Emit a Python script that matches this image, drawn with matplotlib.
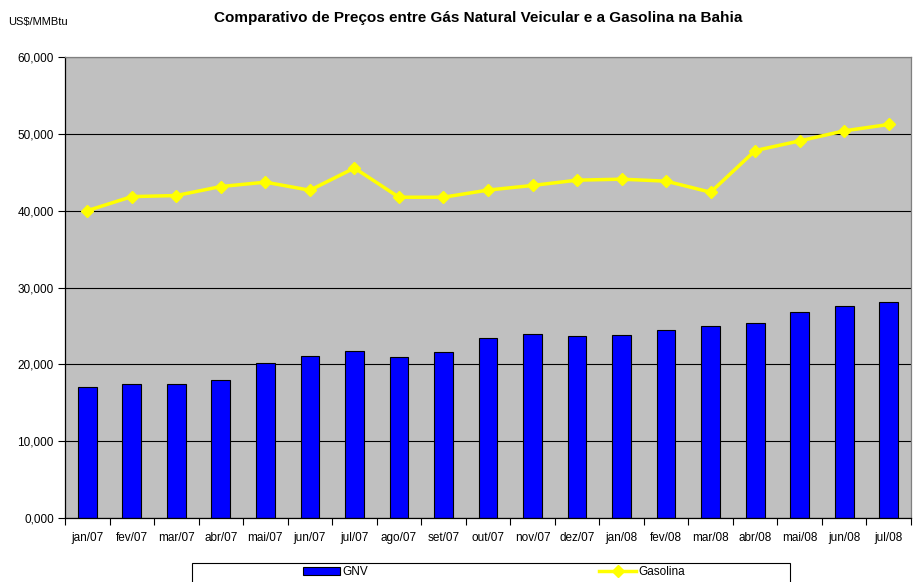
import matplotlib
matplotlib.use("Agg")
import matplotlib.pyplot as plt
from matplotlib.patches import Rectangle
import numpy as np

plt.rcParams['font.family'] = ['Liberation Sans', 'DejaVu Sans']

# dados (US$/MMBtu)
meses = ['jan/07', 'fev/07', 'mar/07', 'abr/07', 'mai/07', 'jun/07', 'jul/07',
         'ago/07', 'set/07', 'out/07', 'nov/07', 'dez/07', 'jan/08', 'fev/08',
         'mar/08', 'abr/08', 'mai/08', 'jun/08', 'jul/08']
gnv = [17.00, 17.39, 17.39, 17.91, 20.13, 21.04, 21.74, 20.96, 21.57, 23.41,
       23.96, 23.70, 23.83, 24.48, 25.00, 25.43, 26.83, 27.65, 28.13]
gasolina = [40.00, 41.83, 41.97, 43.14, 43.71, 42.66, 45.55, 41.75, 41.75, 42.68,
            43.28, 43.97, 44.10, 43.84, 42.40, 47.82, 49.08, 50.39, 51.22]
y_ticks = [0, 10, 20, 30, 40, 50, 60]

fig = plt.figure(figsize=(9.13, 5.82), dpi=100)
ax = fig.add_axes([65 / 913, 1 - 518 / 582, 846 / 913, 461 / 582])
ax.set_facecolor('#C0C0C0')

x = np.arange(len(meses))
barras = ax.bar(x, gnv, width=0.42, color='#0000FF', edgecolor='black', linewidth=0.8,
                label='GNV', zorder=2)
linha, = ax.plot(x, gasolina, color='#FFFF00', linewidth=2.5, marker='D', markersize=6,
                 label='Gasolina', zorder=3)

# eixos
ax.set_xlim(-0.5, len(meses) - 0.5)
ax.set_ylim(0, 60)
ax.set_yticks(y_ticks)
ax.set_yticklabels([('%.3f' % v).replace('.', ',') for v in y_ticks])
ax.yaxis.grid(True, color='black', linewidth=0.8, zorder=1)
ax.set_axisbelow(True)

ax.set_xticks(x)
ax.set_xticklabels(meses)
ax.set_xticks(np.arange(-0.5, len(meses)), minor=True)
ax.tick_params(axis='x', which='major', length=0, pad=10, labelsize=8.5)
ax.tick_params(axis='x', which='minor', length=5, direction='out', width=0.8)
ax.tick_params(axis='y', length=5, direction='out', width=0.8, labelsize=8.5, pad=3)

for s in ['left', 'bottom']:
    ax.spines[s].set_color('black')
    ax.spines[s].set_linewidth(0.9)
for s in ['top', 'right']:
    ax.spines[s].set_color('#808080')
    ax.spines[s].set_linewidth(0.9)

# textos
fig.text(478 / 913, 1 - 18 / 582, 'Comparativo de Preços entre Gás Natural Veicular e a Gasolina na Bahia',
         ha='center', va='center', fontsize=11, fontweight='bold')
fig.text(8 / 913, 1 - 22 / 582, 'US$/MMBtu', ha='left', va='center', fontsize=8)

# legenda
fig.patches.append(Rectangle((192 / 913, -0.05), 598 / 913, 0.05 + 19 / 582,
                             transform=fig.transFigure, facecolor='white',
                             edgecolor='black', linewidth=0.8))
fig.legend([barras, linha], ['GNV', 'Gasolina'], loc='center',
           bbox_to_anchor=(494 / 913, 1 - 572 / 582), ncol=2,
           frameon=False, fontsize=8.5, handlelength=3.2, columnspacing=19.5,
           handletextpad=0.2, borderpad=0)

fig.savefig('out.png', dpi=100)
